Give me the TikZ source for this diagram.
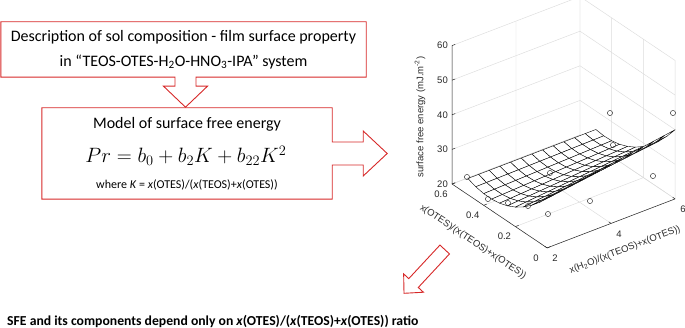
\documentclass[tikz,border=0pt]{standalone}
\usepackage{fontspec}
\setmainfont{Carlito}
\newfontfamily\plotfont{Liberation Sans}
\usetikzlibrary{calc}
\definecolor{calloutred}{RGB}{215,40,40}
\definecolor{axisgray}{RGB}{40,40,40}

% point of the plot box: #1 = K, #2 = x(H2O), #3 = SFE, #4 = name
\newcommand{\boxpt}[4]{%
  \coordinate (#4) at ({452+(0.6-#1)*158.5+(#2-2)*32},{184+(0.6-#1)*106.5-(#2-2)*12.25-(#3-20)*3.46});}
% point of the fitted surface
\newcommand{\sfept}[3]{%
  \pgfmathsetmacro{\zz}{23.3+81*(#1-0.37)^2+1.4*(#2-2)*(1-2*#1)}%
  \boxpt{#1}{#2}{\zz}{#3}}

\begin{document}
\begin{tikzpicture}[x=1pt,y=-1pt,
    callout/.style={draw=calloutred,line width=0.9pt,fill=white,line join=miter},
    txt/.style={inner sep=0pt,font=\fontsize{16}{18}\selectfont},
    grid3d/.style={black!14,line width=0.45pt},
    axis3d/.style={axisgray,line width=0.5pt},
    ticklab/.style={inner sep=0pt,text=axisgray,font=\plotfont\fontsize{9.5}{11}\selectfont},
    meshcell/.style={fill=white,draw=black,line width=0.4pt,line join=round},
    datum/.style={draw=axisgray,line width=0.45pt},
  ]
  \useasboundingbox (0,0) rectangle (685,328);

  % ---------------------------------------------------------------- callouts
  \node[minimum width=365pt,minimum height=55pt,inner sep=0pt] (desc) at (183.5,49.5) {};
  \coordinate (dn) at ($(desc.south)+(2,0)$);
  \draw[callout] (desc.south west) -- (desc.north west) -- (desc.north east)
    -- (desc.south east) -- ($(dn)+(10.5,0)$) -- ++(0,9) -- ++(11.5,0)
    -- ($(dn)+(0,30)$) -- ($(dn)+(-22,9)$) -- ++(11.5,0) -- ($(dn)+(-10.5,0)$) -- cycle;
  \node[txt,align=center,font=\fontsize{16}{25}\selectfont] (desctxt) at (desc)
    {Description of sol composition - film surface property\\
     in ``TEOS-OTES-H\textsubscript{2}O-HNO\textsubscript{3}-IPA'' system};

  \node[minimum width=290pt,minimum height=91pt,inner sep=0pt] (model) at (187,153.5) {};
  \draw[callout] (model.north west) -- (model.north east) -- ($(model.east)+(0,-11.5)$)
    -- ++(31,0) -- ++(0,-11) -- ($(model.east)+(55,0)$) -- ($(model.east)+(31,22.5)$)
    -- ++(0,-11) -- ++(-31,0) -- (model.south east) -- (model.south west) -- cycle;
  \node[txt] (mtitle) at ($(model.north)+(0,17)$) {Model of surface free energy};
  \node[txt,font=\fontsize{20}{22}\selectfont] (meq) at ($(model.north)+(-1,48)$)
    {$Pr = b_0 + b_2K + b_{22}K^2$};
  \node[txt,font=\fontsize{12}{14}\selectfont] (mwhere) at ($(model.north)+(0,77)$)
    {where \textit{K} = \textit{x}(OTES)/(\textit{x}(TEOS)+\textit{x}(OTES))};

  % diagonal arrow towards the conclusion
  \coordinate (tail) at (444.7,249.5);
  \coordinate (tip) at (404,293.3);
  \coordinate (base) at ($(tail)!45.8pt!(tip)$);
  \draw[callout] ($(tail)!6.5pt!90:(tip)$) -- ($(base)!6.5pt!-90:(tail)$)
    -- ($(base)!13.5pt!-90:(tail)$) -- (tip) -- ($(base)!13.5pt!90:(tail)$)
    -- ($(base)!6.5pt!90:(tail)$) -- ($(tail)!6.5pt!-90:(tip)$) -- cycle;

  \node[txt,anchor=west,font=\bfseries\fontsize{13.7}{16}\selectfont] (concl) at (7,321)
    {SFE and its components depend only on \textit{x}(OTES)/(\textit{x}(TEOS)+\textit{x}(OTES)) ratio};

  % ---------------------------------------------------------------- plot box
  \begin{scope}
    \clip (0,0) rectangle (685,328);
    \foreach \w in {2,4,6} {
      \boxpt{0.6}{\w}{20}{ga} \boxpt{0.6}{\w}{60}{gb} \boxpt{0}{\w}{20}{gc}
      \draw[grid3d] (gb) -- (ga) -- (gc);
    }
    \foreach \k in {0,0.2,0.4,0.6} {
      \boxpt{\k}{6}{60}{ga} \boxpt{\k}{6}{20}{gb} \boxpt{\k}{2}{20}{gc}
      \draw[grid3d] (ga) -- (gb) -- (gc);
    }
    \foreach \z in {20,30,...,60} {
      \boxpt{0.6}{2}{\z}{ga} \boxpt{0.6}{6}{\z}{gb} \boxpt{0}{6}{\z}{gc}
      \draw[grid3d] (ga) -- (gb) -- (gc);
    }
  \end{scope}

  % axes
  \boxpt{0.6}{2}{20}{L} \boxpt{0.6}{2}{60}{Ltop}
  \boxpt{0}{2}{20}{B} \boxpt{0}{6}{20}{R}
  \draw[axis3d] (Ltop) -- (L) -- (B) -- (R);
  \foreach \z [count=\n] in {20,30,...,60} {
    \boxpt{0.6}{2}{\z}{ta} \boxpt{0.6}{2.1}{\z}{tb}
    \draw[axis3d] (ta) -- (tb);
    \node[ticklab,anchor=east] (zt\n) at ($(ta)+(-4,0)$) {\z};
  }
  \foreach \k [count=\n] in {0,0.2,0.4,0.6} {
    \boxpt{\k}{2}{20}{ta} \boxpt{\k}{2.1}{20}{tb}
    \draw[axis3d] (ta) -- (tb);
    \node[ticklab] (kt\n) at ($(ta)+(-11,10)$) {\k};
  }
  \foreach \w [count=\n] in {2,4,6} {
    \boxpt{0}{\w}{20}{ta} \boxpt{0.015}{\w}{20}{tb}
    \draw[axis3d] (ta) -- (tb);
    \node[ticklab] (wt\n) at ($(ta)+(8,10.5)$) {\w};
  }
  \node[ticklab,rotate=90] (zlab) at (420,117) {surface free energy (mJ.m\textsuperscript{-2})};
  \node[ticklab,rotate=-33.7] (klab) at (473,242) {x(OTES)/(x(TEOS)+x(OTES))};
  \node[ticklab,rotate=21] (wlab) at (625,250) {x(H\textsubscript{2}O)/(x(TEOS)+x(OTES))};

  % fitted surface, back to front
  \foreach \i in {9,8,...,0} {
    \foreach \j in {11,10,...,0} {
      \pgfmathsetmacro{\ka}{0.05*\i}
      \pgfmathsetmacro{\kb}{0.05*\i+0.05}
      \pgfmathsetmacro{\wa}{2+\j/3}
      \pgfmathsetmacro{\wb}{2+(\j+1)/3}
      \sfept{\ka}{\wa}{s1} \sfept{\kb}{\wa}{s2}
      \sfept{\kb}{\wb}{s3} \sfept{\ka}{\wb}{s4}
      \draw[meshcell] (s1) -- (s2) -- (s3) -- (s4) -- cycle;
    }
  }

  % measured points
  \foreach \x/\y in {467/177,488/199,508/203,528/206,548/214,550/173,
                     590/201,613/145,653/176,610/113,673/113}
    \draw[datum] (\x,\y) circle[radius=2.6pt];
\end{tikzpicture}
\end{document}
